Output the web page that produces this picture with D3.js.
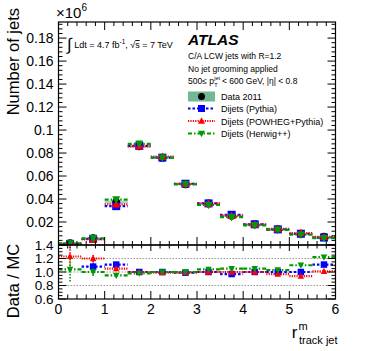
<!DOCTYPE html>
<html><head><meta charset="utf-8">
<script src="https://cdn.jsdelivr.net/npm/d3@7"></script>
<style>
html,body{margin:0;padding:0;background:#fff;}
svg text{font-family:"Liberation Sans",Arial,Helvetica,sans-serif;}
</style></head>
<body>
<svg id="c" width="366" height="351"></svg>
<script>
// ---------------- data ----------------
const binEdges = [0,0.5,1,1.5,2,2.5,3,3.5,4,4.5,5,5.5,6];
// main panel, in units of 10^6 jets
const dataVals    = [0.0015,0.0058,0.0372,0.0858,0.0760,0.0528,0.0362,0.0255,0.0180,0.0136,0.0098,0.0072];
const dataErr     = [0.0003,0.0004,0.0012,0.0010,0.0009,0.0007,0.0005,0.0004,0.0003,0.0003,0.0003,0.0003];
const pythiaVals  = [0.0010,0.0054,0.0338,0.0862,0.0760,0.0533,0.0362,0.0263,0.0180,0.0136,0.0098,0.0065];
const powhegVals  = [0.0012,0.0048,0.0354,0.0858,0.0768,0.0533,0.0362,0.0255,0.0180,0.0140,0.0104,0.0071];
const herwigVals  = [0.0014,0.0058,0.0395,0.0880,0.0760,0.0528,0.0348,0.0243,0.0171,0.0132,0.0089,0.0059];
// ratio panel Data / MC
const pythiaRatio = [1.55,1.08,1.11,1.00,1.00,0.99,1.00,0.97,1.00,1.00,1.00,1.11];
const powhegRatio = [1.23,1.20,1.05,1.00,0.99,0.99,1.00,1.00,1.00,0.97,0.94,1.01];
const herwigRatio = [1.04,1.00,0.95,0.98,1.00,1.00,1.04,1.05,1.05,1.03,1.10,1.22];
const pythiaRErr  = [0.20,0.05,0.03,0.01,0.01,0.01,0.01,0.01,0.01,0.01,0.01,0.01];
const powhegRErr  = [0.18,0.06,0.03,0.01,0.01,0.01,0.01,0.01,0.01,0.01,0.02,0.01];
const herwigRErr  = [0.18,0.06,0.03,0.01,0.01,0.01,0.01,0.01,0.01,0.01,0.01,0.02];
const mainYTicks  = [0.02,0.04,0.06,0.08,0.1,0.12,0.14,0.16,0.18];
const ratioYTicks = [0.6,0.8,1.0,1.2,1.4];
const ratioRefLines = [0.8,1.0,1.2];
const xTicks = [0,1,2,3,4,5,6];
const legendLabels = ["Data 2011","Dijets (Pythia)","Dijets (POWHEG+Pythia)","Dijets (Herwig++)"];

// ---------------- layout ----------------
const svg = d3.select("#c");
const L = 58.5, R = 335.5, T = 22, MB = 245, RB = 299;
const x = d3.scaleLinear().domain([0,6]).range([L,R]);
const y = d3.scaleLinear().domain([0,0.194]).range([MB,T]);
const yr = d3.scaleLinear().domain([0.6,1.4]).range([RB,MB]);

const BLUE="#0000ff", RED="#ff0000", GREEN="#009900", BAND="#72b894";
const series = [
  {vals:pythiaVals, ratio:pythiaRatio, err:pythiaRErr, color:BLUE, dash:"2.5,2", sym:"square"},
  {vals:powhegVals, ratio:powhegRatio, err:powhegRErr, color:RED, dash:"1.2,1.2", sym:"up"},
  {vals:herwigVals, ratio:herwigRatio, err:herwigRErr, color:GREEN, dash:"4,2,1.5,2", sym:"down"}
];
const bins = dataVals.map((v,i)=>({i, lo:binEdges[i], hi:binEdges[i+1], c:(binEdges[i]+binEdges[i+1])/2}));

function marker(g, sym, cx, cy, size, color){
  if(sym==="square"){
    g.append("rect").attr("x",cx-size/2).attr("y",cy-size/2).attr("width",size).attr("height",size).attr("fill",color);
  } else if(sym==="up"){
    const h=size*0.9;
    g.append("path").attr("d",`M${cx},${cy-h*0.6}L${cx+size/2},${cy+h*0.45}L${cx-size/2},${cy+h*0.45}Z`).attr("fill",color);
  } else if(sym==="down"){
    const h=size*0.9;
    g.append("path").attr("d",`M${cx},${cy+h*0.6}L${cx+size/2},${cy-h*0.45}L${cx-size/2},${cy-h*0.45}Z`).attr("fill",color);
  } else {
    g.append("circle").attr("cx",cx).attr("cy",cy).attr("r",size/2).attr("fill",color);
  }
}

// clip paths
const defs = svg.append("defs");
defs.append("clipPath").attr("id","cm").append("rect").attr("x",L).attr("y",T).attr("width",R-L).attr("height",MB-T);
defs.append("clipPath").attr("id","cr").append("rect").attr("x",L).attr("y",MB).attr("width",R-L).attr("height",RB-MB);

// ---------------- main panel marks ----------------
const gm = svg.append("g").attr("clip-path","url(#cm)");
bins.forEach(b=>{
  gm.append("rect").attr("x",x(b.lo)).attr("width",x(b.hi)-x(b.lo))
    .attr("y",y(dataVals[b.i]+dataErr[b.i])).attr("height",Math.max(1.5,y(dataVals[b.i]-dataErr[b.i])-y(dataVals[b.i]+dataErr[b.i])))
    .attr("fill",BAND).attr("opacity",0.6);
});
bins.forEach(b=>{
  gm.append("circle").attr("cx",x(b.c)).attr("cy",y(dataVals[b.i])).attr("r",4).attr("fill","#000");
});
series.forEach(s=>{
  bins.forEach(b=>{
    gm.append("line").attr("x1",x(b.lo)).attr("x2",x(b.hi)).attr("y1",y(s.vals[b.i])).attr("y2",y(s.vals[b.i]))
      .attr("stroke",s.color).attr("stroke-width",2.2).attr("stroke-dasharray",s.dash);
    marker(gm,s.sym,x(b.c),y(s.vals[b.i]),8,s.color);
  });
});

// ---------------- ratio panel marks ----------------
const gr = svg.append("g").attr("clip-path","url(#cr)");
ratioRefLines.forEach(v=>{
  gr.append("line").attr("x1",L).attr("x2",R).attr("y1",yr(v)).attr("y2",yr(v))
    .attr("stroke","#999").attr("stroke-width",1).attr("stroke-dasharray","1.5,1.5");
});
series.forEach(s=>{
  bins.forEach(b=>{
    const v=s.ratio[b.i], e=s.err[b.i];
    gr.append("line").attr("x1",x(b.lo)).attr("x2",x(b.hi)).attr("y1",yr(v)).attr("y2",yr(v))
      .attr("stroke",s.color).attr("stroke-width",2.2).attr("stroke-dasharray",s.dash);
    gr.append("line").attr("x1",x(b.c)).attr("x2",x(b.c)).attr("y1",yr(v-e)).attr("y2",yr(v+e))
      .attr("stroke",s.color).attr("stroke-width",1.6).attr("stroke-dasharray","1.5,1.5");
    marker(gr,s.sym,x(b.c),yr(v),6.5,s.color);
  });
});

// ---------------- axes / frames ----------------
const ga = svg.append("g").attr("stroke","#000").attr("fill","none");
ga.append("rect").attr("x",L).attr("y",T).attr("width",R-L).attr("height",MB-T).attr("stroke-width",1.2);
ga.append("rect").attr("x",L).attr("y",MB).attr("width",R-L).attr("height",RB-MB).attr("stroke-width",1.2);

function tickLine(x1,y1,x2,y2){ ga.append("line").attr("x1",x1).attr("y1",y1).attr("x2",x2).attr("y2",y2).attr("stroke-width",1); }
d3.range(0,6.0001,0.2).forEach(v=>{
  const major = Math.abs(v-Math.round(v))<1e-6;
  const xx = x(v);
  const lm = major?8:4, lr = major?6:3.5;
  tickLine(xx,MB,xx,MB-lm); tickLine(xx,T,xx,T+lm);
  tickLine(xx,MB,xx,MB+lr); tickLine(xx,RB,xx,RB-(major?8:4.5));
});
d3.range(0,0.1941,0.004).forEach(v=>{
  const major = Math.abs(v/0.02-Math.round(v/0.02))<1e-6;
  const l = major?8:4;
  tickLine(L,y(v),L+l,y(v)); tickLine(R,y(v),R-l,y(v));
});
d3.range(0.6,1.4001,0.05).forEach(v=>{
  const major = Math.abs(v/0.2-Math.round(v/0.2))<1e-6;
  const l = major?8:4;
  tickLine(L,yr(v),L+l,yr(v)); tickLine(R,yr(v),R-l,yr(v));
});

// tick labels
const gt = svg.append("g").attr("fill","#000");
mainYTicks.forEach(v=>{
  gt.append("text").attr("font-size",14).attr("x",L-5).attr("y",y(v)+5).attr("text-anchor","end").text(d3.format("~g")(v));
});
ratioYTicks.forEach(v=>{
  gt.append("text").attr("font-size",13.5).attr("x",L-5).attr("y",yr(v)+4.8).attr("text-anchor","end").text(d3.format(".1f")(v));
});
xTicks.forEach(v=>{
  gt.append("text").attr("font-size",14).attr("x",x(v)).attr("y",RB+14.5).attr("text-anchor","middle").text(v);
});

// ×10^6
const ex = svg.append("text").attr("x",56).attr("y",18).attr("font-size",15);
ex.append("tspan").text("×10");
ex.append("tspan").attr("font-size",10).attr("dy",-7).text("6");

// axis titles
svg.append("text").attr("transform","translate(19,8) rotate(-90)").attr("text-anchor","end").attr("font-size",16.5).text("Number of jets");
svg.append("text").attr("transform","translate(19,281) rotate(-90)").attr("text-anchor","middle").attr("font-size",16.5).text("Data / MC");
svg.append("text").attr("x",R+2).attr("y",344).attr("text-anchor","end").attr("font-size",11).text("track jet");
svg.append("text").attr("x",R+2-39).attr("y",330).attr("text-anchor","start").attr("font-size",11).text("m");
svg.append("text").attr("x",R+2-40).attr("y",338).attr("text-anchor","end").attr("font-size",17).text("r");

// luminosity label
const lum = svg.append("text").attr("x",67).attr("y",48).attr("font-size",9);
lum.append("tspan").attr("font-size",17).attr("dy",2).text("∫");
lum.append("tspan").attr("dy",-2).text(" Ldt = 4.7 fb");
lum.append("tspan").attr("font-size",6.5).attr("dy",-4).text("-1");
lum.append("tspan").attr("dy",4).text(", √");
lum.append("tspan").attr("text-decoration","overline").text("s");
lum.append("tspan").text(" = 7 TeV");

// ATLAS block
svg.append("text").attr("x",188).attr("y",45).attr("font-size",15.5).attr("font-weight","bold").attr("font-style","italic").text("ATLAS");
const infoX = 188;
svg.append("text").attr("x",infoX).attr("y",59).attr("font-size",8.5).text("C/A LCW jets with R=1.2");
svg.append("text").attr("x",infoX).attr("y",71.5).attr("font-size",8.5).text("No jet grooming applied");
const ptA = svg.append("text").attr("x",infoX).attr("y",84).attr("font-size",8.5).text("500≤ p");
const wA = ptA.node().getComputedTextLength();
svg.append("text").attr("x",infoX+wA+0.3).attr("y",79.5).attr("font-size",5.5).text("jet");
svg.append("text").attr("x",infoX+wA+0.3).attr("y",86.5).attr("font-size",5.5).text("T");
svg.append("text").attr("x",infoX+wA+8).attr("y",84).attr("font-size",8.5).text("< 600 GeV, |η| < 0.8");

// legend
const lg = svg.append("g");
const ly = [96.5,108.5,121,133.5];
const lx0 = 188, lx1 = 215;
lg.append("rect").attr("x",lx0).attr("y",ly[0]-5).attr("width",lx1-lx0).attr("height",10).attr("fill",BAND);
lg.append("circle").attr("cx",(lx0+lx1)/2).attr("cy",ly[0]).attr("r",3.5).attr("fill","#000");
series.forEach((s,k)=>{
  const yy = ly[k+1];
  lg.append("line").attr("x1",lx0).attr("x2",lx1).attr("y1",yy).attr("y2",yy).attr("stroke",s.color).attr("stroke-width",2.2).attr("stroke-dasharray",s.dash);
  marker(lg,s.sym,(lx0+lx1)/2,yy,7,s.color);
});
legendLabels.forEach((t,k)=>{
  lg.append("text").attr("x",221).attr("y",ly[k]+3.5).attr("font-size",9).text(t);
});
</script>
</body></html>
